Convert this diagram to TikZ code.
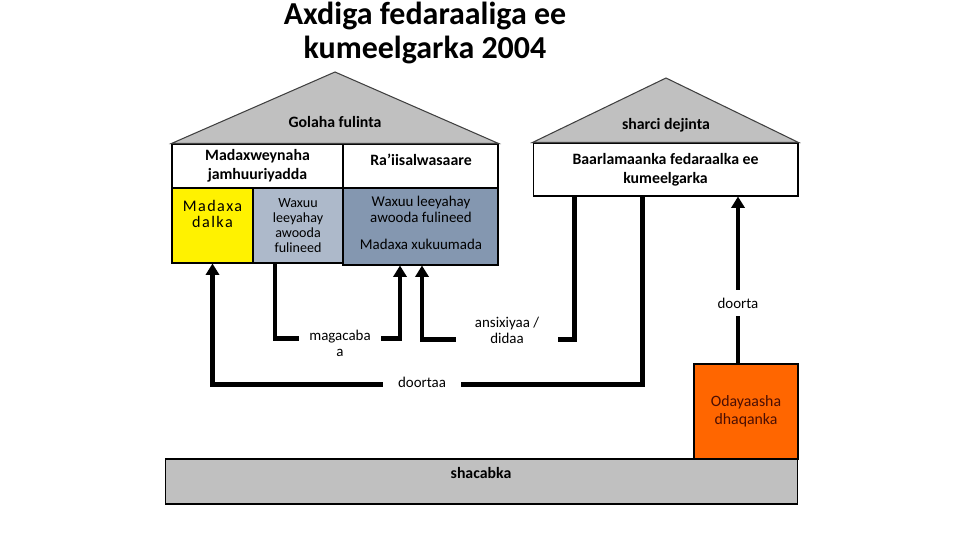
\documentclass[tikz,border=0pt]{standalone}
\usepackage{fontspec}
\setmainfont{Carlito}
\usepackage{tikz}
\usepackage{xcolor}
\usetikzlibrary{arrows.meta,calc}
\definecolor{roofgray}{HTML}{C0C0C0}
\definecolor{lightslate}{HTML}{ADB9CA}
\definecolor{darkslate}{HTML}{8497B0}
\definecolor{elderorange}{HTML}{FF6600}
\definecolor{eldertext}{HTML}{4A0E04}
\begin{document}
\begin{tikzpicture}[x=0.02cm,y=-0.02cm,
  box/.style={draw,line width=0.6pt,inner sep=0pt,align=center},
  hd/.style={align=center,font=\fontsize{9}{10.6}\selectfont\bfseries},
  tx/.style={align=center,font=\fontsize{8.5}{9.2}\selectfont},
  lbl/.style={tx,fill=white,inner sep=0pt},
  conn/.style={line width=2.8pt,-{Triangle[width=7.5pt,length=6.5pt]}}]
\useasboundingbox (0,0) rectangle (960,540);
\node[align=center,font=\fontsize{18.2}{19.8}\selectfont\bfseries] (title) at (425,33) {Axdiga fedaraaliga ee\\kumeelgarka 2004};
\node[box,fill=roofgray,minimum width=12.66cm,minimum height=0.9cm] (sha) at (481.5,481.5) {};
\node[hd] (shatext) at (481,473) {shacabka};
\node[box,fill=elderorange,text=eldertext,align=center,minimum width=2.08cm,minimum height=1.9cm,font=\fontsize{9}{10.2}\selectfont] (ora) at (746,411.5) {Odayaasha\\dhaqanka};
\node[box,fill=darkslate,minimum width=3.1cm,minimum height=1.54cm] (dk) at (420.5,226.5) {};
\node[box,fill=yellow,minimum width=1.62cm,minimum height=1.5cm] (yel) at (212.5,225.5) {};
\node[box,fill=lightslate,tx,minimum width=1.8cm,minimum height=1.5cm,font=\fontsize{8}{8.6}\selectfont] (lb) at (298,225.5) {Waxuu\\leeyahay\\awooda\\fulineed};
\node[box,fill=white,hd,minimum width=3.42cm,minimum height=0.88cm] (pres) at (257.5,166) {Madaxweynaha\\jamhuuriyadda};
\node[box,fill=white,minimum width=3.1cm,minimum height=0.88cm] (pm) at (420.5,166) {};
\node[hd] (pmtext) at (421,160) {Ra’iisalwasaare};
\node[align=center,font=\fontsize{9.2}{8.6}\selectfont\addfontfeatures{LetterSpace=9}] (yeltext) at (212.5,214) {Madaxa\\dalka};
\node[tx] (dktext) at (421,209.5) {Waxuu leeyahay\\awooda fulineed};
\node[tx] (dkhead) at (421,244) {Madaxa xukuumada};
\node[box,fill=white,hd,minimum width=5.3cm,minimum height=1.06cm] (baar) at (665.5,169.5) {Baarlamaanka fedaraalka ee\\kumeelgarka};
\draw[line width=0.6pt,draw=black!75,fill=roofgray] (pres.north west) -- (335,72) -- (pm.north east) -- cycle;
\draw[line width=0.6pt,draw=black!75,fill=roofgray] (baar.north west) -- (666,78) -- (baar.north east) -- cycle;
\node[hd] (exec) at (335,122) {Golaha fulinta};
\node[hd] (legis) at (666,125) {sharci dejinta};
\coordinate (dt) at ($(ora.north)+(-8,0)$);
\draw[conn] ($(baar.south west)+(110,0)$) |- ($(yel.south)+(0,121)$) -- (yel.south);
\draw[conn] ($(lb.south)+(-23,0)$) |- ($(dk.south)+(-20.5,73)$) -- ($(dk.south)+(-20.5,0)$);
\draw[conn] ($(baar.south west)+(42,0)$) |- ($(dk.south)+(1.5,74)$) -- ($(dk.south)+(1.5,0)$);
\draw[conn] (dt) -- (dt |- baar.south);
\node[lbl,inner xsep=6pt] (magac) at (340,343.5) {magacaba\\a};
\node[lbl,inner xsep=11pt] (ansix) at (507,330) {ansixiyaa /\\didaa};
\node[lbl,inner xsep=8.5pt,inner ysep=2pt] (doortaa) at (422,382) {doortaa};
\node[lbl,inner xsep=2pt,inner ysep=4.5pt] (doorta) at (738,303) {doorta};
\end{tikzpicture}
\end{document}
